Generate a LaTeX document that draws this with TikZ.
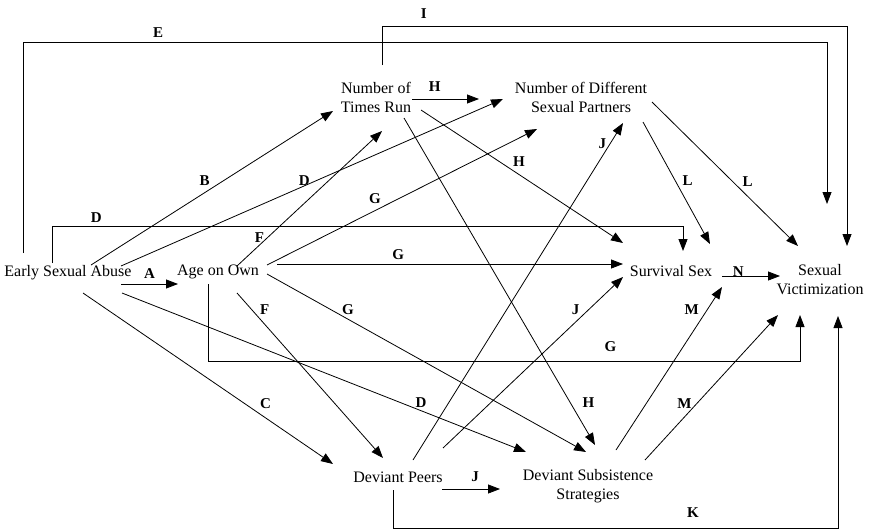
\documentclass[tikz,border=0pt]{standalone}
\usepackage{fontspec}
\setmainfont{Liberation Serif}
\usetikzlibrary{arrows.meta}

\begin{document}
\begin{tikzpicture}[x=1pt,y=-1pt,line width=0.8pt,
    var/.style={align=center,inner sep=0pt,font=\fontsize{16}{19}\selectfont},
    lab/.style={inner sep=1pt,font=\fontsize{15}{18}\selectfont\bfseries},
    arr/.style={-{Triangle[length=12pt,width=9pt]}}]
  \useasboundingbox (0,0) rectangle (869,530);
  % variables
  \node[var] (esa) at (68,273) {Early Sexual Abuse};
  \node[var] (aoo) at (218,272) {Age on Own};
  \node[var] (tr) at (376,97) {Number of\\Times Run};
  \node[var] (pt) at (581,97) {Number of Different\\Sexual Partners};
  \node[var] (ss) at (671,271) {Survival Sex};
  \node[var] (sv) at (820,280) {Sexual\\Victimization};
  \node[var] (dp) at (398,477) {Deviant Peers};
  \node[var] (dss) at (588,486) {Deviant Subsistence\\Strategies};
  % paths from early sexual abuse
  \draw[arr] ([shift={(53,11)}]esa.center) -- node[lab,pos=.5,above=4pt] (lA) {A} ([shift={(-40,12)}]aoo.center);
  \draw[arr] ([shift={(23,-8)}]esa.center) -- node[lab,pos=.47,above=6pt] (lB) {B} ([shift={(-43,14)}]tr.center);
  \draw[arr] ([shift={(53,-7)}]esa.center) -- node[lab,pos=.48,above=-1pt] (lD1) {D} ([shift={(-78,2)}]pt.center);
  \draw[arr] ([shift={(-16,-10)}]esa.center) -- ++(0,-37) -| node[lab,pos=.035,above=2pt] (lD2) {D} ([shift={(12,-20)}]ss.center);
  \draw[arr] ([shift={(-45,-20)}]esa.center) -- ++(0,-211) -| node[lab,pos=.084,above=3pt] (lE) {E} ([shift={(7,-76)}]sv.center);
  \draw[arr] ([shift={(15,20)}]esa.center) -- node[lab,pos=.73,above=8pt] (lC) {C} ([shift={(-65,-13)}]dp.center);
  \draw[arr] ([shift={(54,20)}]esa.center) -- node[lab,pos=.74,above=2pt] (lD3) {D} ([shift={(-62,-34)}]dss.center);
  % paths from age on own
  \draw[arr] ([shift={(19,-6)}]aoo.center) -- node[lab,pos=.21,left=2pt] (lF1) {F} ([shift={(6,34)}]tr.center);
  \draw[arr] ([shift={(49,-7)}]aoo.center) -- node[lab,pos=.4,above=6pt] (lG1) {G} ([shift={(-44,32)}]pt.center);
  \draw[arr] ([shift={(59,-8)}]aoo.center) -- node[lab,pos=.35,above=3pt] (lG2) {G} ([shift={(-48,-7)}]ss.center);
  \draw[arr] ([shift={(-10,12)}]aoo.center) -- ++(0,77) -| node[lab,pos=.34,above=8pt] (lG3) {G} ([shift={(-20,35)}]sv.center);
  \draw[arr] ([shift={(19,21)}]aoo.center) -- node[lab,pos=.1,right=7pt] (lF2) {F} ([shift={(-15,-19)}]dp.center);
  \draw[arr] ([shift={(49,2)}]aoo.center) -- node[lab,pos=.2,right=10pt] (lG4) {G} ([shift={(-2,-34)}]dss.center);
  % paths from number of times run
  \draw[arr] ([shift={(36,2)}]tr.center) -- node[lab,pos=.34,above=6pt] (lH1) {H} ([shift={(-102,2)}]pt.center);
  \draw[arr] ([shift={(45,13)}]tr.center) -- node[lab,pos=.39,right=12pt] (lH2) {H} ([shift={(-48,-28)}]ss.center);
  \draw[arr] ([shift={(28,21)}]tr.center) -- node[lab,pos=.87,right=11pt] (lH3) {H} ([shift={(7,-41)}]dss.center);
  \draw[arr] ([shift={(6,-32)}]tr.center) -- ++(0,-39) -| node[lab,pos=.045,above=6pt] (lI) {I} ([shift={(27,-34)}]sv.center);
  % paths from number of different sexual partners
  \draw[arr] ([shift={(62,25)}]pt.center) -- node[lab,pos=.48,right=6pt] (lL1) {L} ([shift={(39,-27)}]ss.center);
  \draw[arr] ([shift={(71,5)}]pt.center) -- node[lab,pos=.55,right=9pt] (lL2) {L} ([shift={(-22,-34)}]sv.center);
  % paths from deviant peers
  \draw[arr] ([shift={(15,-17)}]dp.center) -- node[lab,pos=.94,left=3pt] (lJ1) {J} ([shift={(42,26)}]pt.center);
  \draw[arr] ([shift={(45,-29)}]dp.center) -- node[lab,pos=.81,left=8pt] (lJ2) {J} ([shift={(-48,6)}]ss.center);
  \draw[arr] ([shift={(44,12)}]dp.center) -- node[lab,pos=.57,above=6pt] (lJ3) {J} ([shift={(-88,3)}]dss.center);
  \draw[arr] ([shift={(-5,13)}]dp.center) -- ++(0,38) -| node[lab,pos=.337,above=9pt] (lK) {K} ([shift={(18,36)}]sv.center);
  % paths from deviant subsistence strategies
  \draw[arr] ([shift={(28,-36)}]dss.center) -- node[lab,pos=.86,left=7pt] (lM1) {M} ([shift={(51,16)}]ss.center);
  \draw[arr] ([shift={(57,-26)}]dss.center) -- node[lab,pos=.39,left=4pt] (lM2) {M} ([shift={(-42,35)}]sv.center);
  % survival sex to sexual victimization
  \draw[arr] ([shift={(51,5)}]ss.center) -- node[lab,pos=.28,above=-2pt] (lN) {N} ([shift={(-40,-4)}]sv.center);
\end{tikzpicture}
\end{document}
